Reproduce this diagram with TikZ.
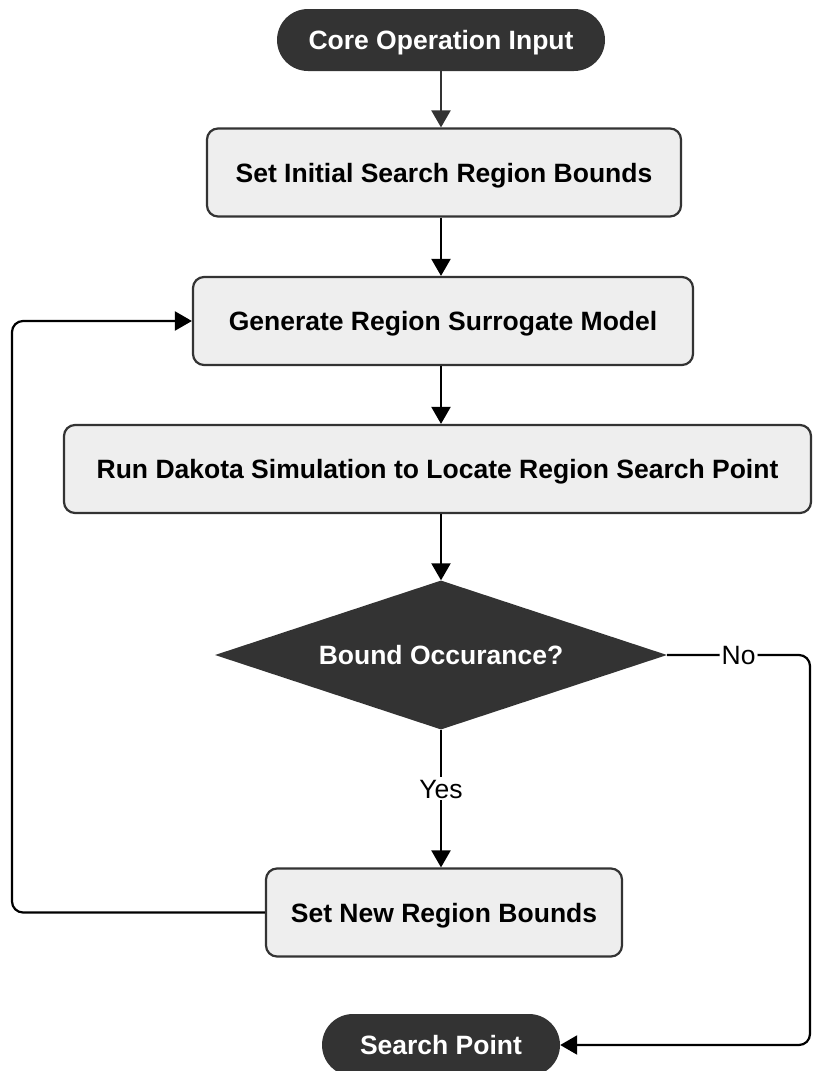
\documentclass[tikz,border=0pt]{standalone}
\usepackage{fontspec}
\setmainfont{Liberation Sans}
\usetikzlibrary{arrows.meta,shapes.geometric}
\definecolor{ink}{HTML}{333333}
\definecolor{boxfill}{HTML}{EEEEEE}
\begin{document}
\begin{tikzpicture}[x=1pt,y=-1pt,
  txt/.style={font=\fontsize{26.5}{30}\selectfont, text height=19pt, text depth=0pt},
  terminal/.style={txt, rectangle, rounded corners=31pt, fill=ink, draw=none,
    text=white, font=\fontsize{26.5}{30}\selectfont\bfseries,
    minimum height=62pt, inner sep=0pt},
  process/.style={txt, rectangle, rounded corners=11pt, fill=boxfill, draw=ink,
    line width=2.2pt, text=black, font=\fontsize{26.5}{30}\selectfont\bfseries,
    minimum height=88pt, inner sep=0pt},
  decision/.style={txt, diamond, aspect=3, fill=ink, draw=none, text=white,
    font=\fontsize{26.5}{30}\selectfont\bfseries, inner sep=0pt,
    minimum width=452pt, minimum height=149pt},
  conn/.style={line width=2.2pt, draw=black,
    -{Triangle[length=17pt,width=19pt]}},
  lbl/.style={txt, fill=white, inner sep=2pt, text=black}]
\useasboundingbox (0,0) rectangle (812,1071);

% nodes
\node[terminal, minimum width=328pt] (start) at (441,40) {Core Operation Input};
\node[process, minimum width=474pt] (init) at (444,172.5) {Set Initial Search Region Bounds};
\node[process, minimum width=500pt] (surr) at (443,321) {Generate Region Surrogate Model};
\node[process, minimum width=747pt] (sim) at (437.5,469) {Run Dakota Simulation to Locate Region Search Point};
\node[decision] (dec) at (441,655) {Bound Occurance?};
\node[process, minimum width=356pt] (newb) at (444,912.5) {Set New Region Bounds};
\node[terminal, minimum width=238pt] (final) at (441,1045) {Search Point};

% turning points of the two side loops
\coordinate (lx) at (12,0);
\coordinate (rx) at (810,0);

% main downward flow
\draw[conn, draw=ink] (start.south) -- (start.south |- init.north);
\draw[conn] (start.south |- init.south) -- (start.south |- surr.north);
\draw[conn] (start.south |- surr.south) -- (start.south |- sim.north);
\draw[conn] (start.south |- sim.south) -- (dec.north);
\draw[conn] (dec.south) -- node[lbl, pos=0.43] {Yes} (dec.south |- newb.north);

% loop back to the surrogate model
\draw[conn, rounded corners=11pt] (newb.west) -- (newb.west -| lx) |- (surr.west);

% exit to the search point
\draw[conn, rounded corners=11pt] (dec.east) -- node[lbl, pos=0.5] {No} (dec.east -| rx) |- (final.east);
\end{tikzpicture}
\end{document}
